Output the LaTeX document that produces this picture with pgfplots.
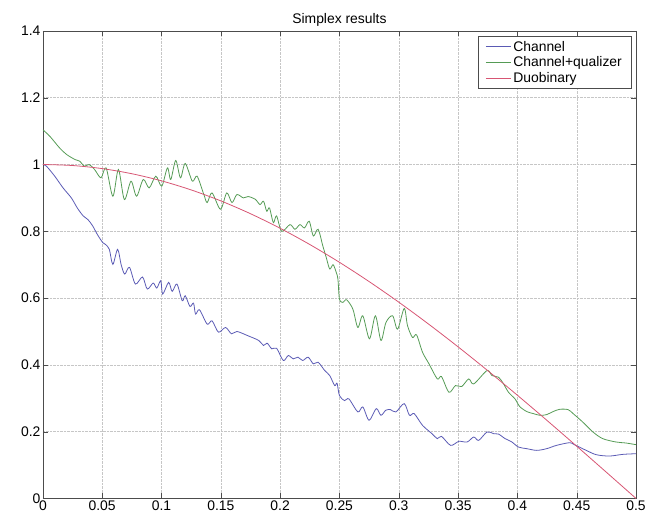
\documentclass[border=0pt]{standalone}
\usepackage{fontspec}
\setmainfont{Liberation Sans}
\usepackage{pgfplots}
\pgfplotsset{compat=1.18}

\definecolor{mblue}{RGB}{90,90,180}
\definecolor{mgreen}{RGB}{85,155,85}
\definecolor{mred}{RGB}{215,85,115}

\begin{document}
\begin{tikzpicture}
\begin{axis}[
    scale only axis,
    width=595bp, height=469bp,
    xmin=0, xmax=0.5, ymin=0, ymax=1.4,
    xtick={0,0.05,...,0.5},
    xticklabels={0,0.05,0.1,0.15,0.2,0.25,0.3,0.35,0.4,0.45,0.5},
    ytick={0,0.2,...,1.4},
    yticklabels={0,0.2,0.4,0.6,0.8,1,1.2,1.4},
    tick label style={font=\fontsize{14}{16}\selectfont},
    xticklabel style={yshift=1bp},
    yticklabel style={xshift=1bp},
    title={Simplex results},
    title style={font=\fontsize{14}{16}\selectfont, yshift=-5bp},
    grid=major,
    major grid style={densely dotted, gray!45},
    axis line style={gray!60!black},
    tick style={gray!60!black},
    major tick length=5bp,
    legend style={at={(axis description cs:1,1)}, anchor=north east,
        xshift=-5bp, yshift=-5bp, font=\fontsize{14}{16}\selectfont,
        draw=gray!60!black, row sep=0bp, inner xsep=7bp, inner ysep=3bp},
    legend image code/.code={\draw[#1] (0bp,0bp) -- (25bp,0bp);},
    legend cell align=left,
    every axis plot/.append style={line width=0.8pt},
]
\addplot[mblue, smooth, tension=0.5] coordinates {
(0,1.0) (0.003,0.995) (0.01,0.965) (0.017,0.93) (0.024,0.90) (0.029,0.87)
(0.034,0.846) (0.038,0.835) (0.042,0.816) (0.046,0.79) (0.0505,0.766)
(0.053,0.76) (0.056,0.746) (0.059,0.701) (0.063,0.746) (0.066,0.70)
(0.069,0.672) (0.073,0.692) (0.078,0.642) (0.084,0.663) (0.088,0.627)
(0.093,0.645) (0.096,0.63) (0.0994,0.652) (0.101,0.612) (0.106,0.647)
(0.109,0.62) (0.113,0.642) (0.1175,0.592) (0.12,0.607) (0.124,0.575)
(0.127,0.585) (0.1287,0.552) (0.132,0.565) (0.1385,0.522) (0.1426,0.532)
(0.148,0.498) (0.154,0.512) (0.159,0.493) (0.1636,0.50) (0.173,0.487)
(0.182,0.473) (0.186,0.458) (0.189,0.465) (0.193,0.448) (0.197,0.45)
(0.2027,0.413) (0.2069,0.428) (0.211,0.418) (0.215,0.423) (0.219,0.413)
(0.2236,0.423) (0.228,0.403) (0.232,0.408) (0.2376,0.383) (0.2418,0.368)
(0.246,0.338) (0.248,0.345) (0.25,0.308) (0.2543,0.293) (0.258,0.298)
(0.2655,0.259) (0.2697,0.274) (0.275,0.234) (0.281,0.269) (0.285,0.249)
(0.289,0.264) (0.293,0.266) (0.2976,0.259) (0.3046,0.284) (0.309,0.249)
(0.313,0.254) (0.32,0.219) (0.328,0.194) (0.3325,0.179) (0.336,0.186)
(0.3437,0.159) (0.3507,0.171) (0.3576,0.169) (0.3632,0.184) (0.3674,0.174)
(0.3744,0.199) (0.38,0.194) (0.384,0.193) (0.3897,0.179) (0.395,0.17)
(0.4009,0.154) (0.408,0.149) (0.4163,0.144) (0.4246,0.149) (0.433,0.159)
(0.444,0.167) (0.448,0.161) (0.458,0.144) (0.4665,0.131) (0.4776,0.127)
(0.4888,0.132) (0.5,0.134)
};
\addlegendentry{Channel}
\addplot[mgreen, smooth, tension=0.5] coordinates {
(0,1.104) (0.006,1.084) (0.014,1.05) (0.02,1.03) (0.027,1.015) (0.031,1.01)
(0.035,0.995) (0.039,1.0) (0.0436,0.985) (0.049,0.96) (0.0533,0.99)
(0.059,0.905) (0.0637,0.985) (0.0687,0.895) (0.0743,0.95) (0.079,0.905)
(0.0846,0.955) (0.0896,0.93) (0.0952,0.965) (0.1002,0.935) (0.105,0.99)
(0.1078,0.955) (0.112,1.012) (0.116,0.96) (0.12,1.003) (0.126,0.95)
(0.13,0.965) (0.1357,0.91) (0.1385,0.886) (0.1426,0.915) (0.1497,0.866)
(0.155,0.915) (0.1594,0.886) (0.1636,0.91) (0.169,0.9) (0.173,0.904)
(0.179,0.896) (0.183,0.88) (0.186,0.89) (0.1887,0.86) (0.191,0.87)
(0.1943,0.826) (0.197,0.846) (0.2013,0.80) (0.2083,0.82) (0.2125,0.806)
(0.2167,0.82) (0.2205,0.81) (0.2245,0.83) (0.228,0.786) (0.232,0.806)
(0.236,0.756) (0.239,0.72) (0.2418,0.687) (0.2446,0.70) (0.247,0.68)
(0.2487,0.657) (0.25,0.597) (0.253,0.587) (0.256,0.595) (0.2613,0.567)
(0.2655,0.512) (0.2697,0.547) (0.2753,0.478) (0.2803,0.547) (0.285,0.473)
(0.2892,0.527) (0.2948,0.547) (0.299,0.507) (0.3046,0.569) (0.3074,0.517)
(0.3116,0.482) (0.315,0.49) (0.32,0.438) (0.3255,0.403) (0.3325,0.358)
(0.336,0.365) (0.3423,0.318) (0.3478,0.338) (0.353,0.335) (0.359,0.358)
(0.3632,0.343) (0.3744,0.383) (0.3786,0.368) (0.3841,0.363) (0.388,0.345)
(0.3925,0.318) (0.398,0.298) (0.402,0.275) (0.408,0.26) (0.4135,0.254)
(0.419,0.249) (0.4246,0.251) (0.43,0.26) (0.4357,0.267) (0.4427,0.266)
(0.447,0.254) (0.455,0.229) (0.4637,0.199) (0.472,0.179) (0.4832,0.169)
(0.4916,0.166) (0.5,0.161)
};
\addlegendentry{Channel+qualizer}
\addplot[mred, smooth] coordinates {
(0,1) (0.025,0.99692) (0.05,0.98769) (0.075,0.97237) (0.1,0.95106)
(0.125,0.92388) (0.15,0.89101) (0.175,0.85264) (0.2,0.80902) (0.225,0.76041)
(0.25,0.70711) (0.275,0.64945) (0.3,0.58779) (0.325,0.52250) (0.35,0.45399)
(0.375,0.38268) (0.4,0.30902) (0.425,0.23345) (0.45,0.15643) (0.475,0.07846)
(0.5,0)
};
\addlegendentry{Duobinary}
\end{axis}
\path (current axis.south west) ++(-43bp,-21bp) (current axis.north east) ++(11bp,31bp);
\end{tikzpicture}
\end{document}
